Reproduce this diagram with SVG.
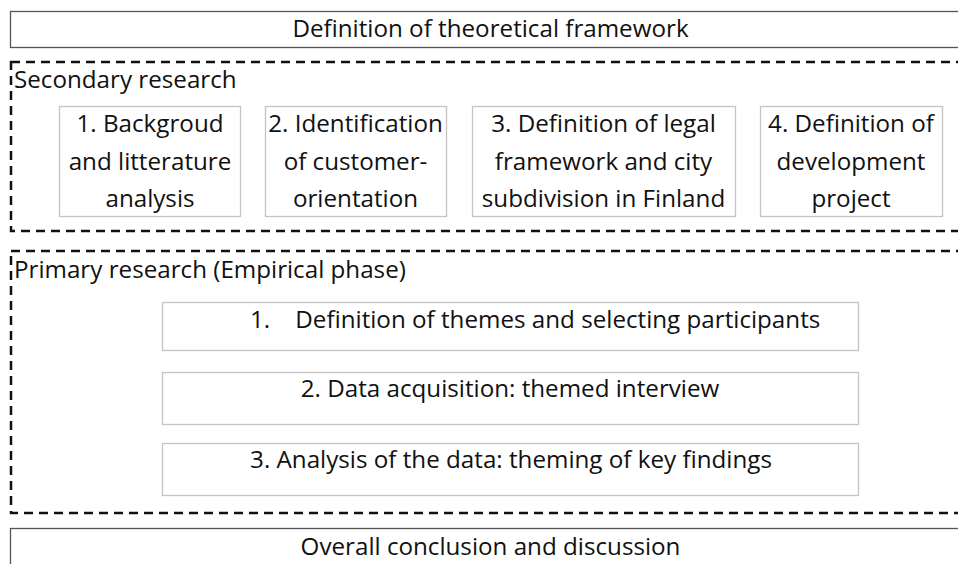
<svg xmlns="http://www.w3.org/2000/svg" width="958" height="564" viewBox="0 0 958 564">
  <style>
    text { font-family: "Open Sans", "Liberation Sans", Arial, sans-serif; font-size: 24.2px; fill: #111; }
    .mid { text-anchor: middle; }
    .solid { fill: #fff; stroke: #555; stroke-width: 1.3; }
    .phase { fill: none; stroke: #111; stroke-width: 2.5; stroke-dasharray: 9 6; }
    .step { fill: #fff; stroke: #c4c4c4; stroke-width: 1.3; }
  </style>
  <rect width="958" height="564" fill="#fff"/>

  <g id="framework">
    <rect class="solid" x="10.5" y="11.5" width="960" height="36"/>
    <text class="mid" x="490.5" y="37">Definition of theoretical framework</text>
  </g>

  <g id="secondary">
    <rect class="phase" x="11" y="62" width="960" height="169"/>
    <text x="14" y="88">Secondary research</text>
  </g>
  <g id="sec-1">
    <rect class="step" x="59.5" y="106.5" width="181" height="110"/>
    <text class="mid" x="150" y="132">1. Backgroud</text>
    <text class="mid" x="150" y="170">and litterature</text>
    <text class="mid" x="150" y="207">analysis</text>
  </g>
  <g id="sec-2">
    <rect class="step" x="265.5" y="106.5" width="181" height="110"/>
    <text class="mid" x="355.5" y="132">2. Identification</text>
    <text class="mid" x="355.5" y="170">of customer-</text>
    <text class="mid" x="355.5" y="207">orientation</text>
  </g>
  <g id="sec-3">
    <rect class="step" x="472.5" y="106.5" width="263" height="110"/>
    <text class="mid" x="603.5" y="132">3. Definition of legal</text>
    <text class="mid" x="603.5" y="170">framework and city</text>
    <text class="mid" x="603.5" y="207">subdivision in Finland</text>
  </g>
  <g id="sec-4">
    <rect class="step" x="760.5" y="106.5" width="182" height="110"/>
    <text class="mid" x="851" y="132">4. Definition of</text>
    <text class="mid" x="851" y="170">development</text>
    <text class="mid" x="851" y="207">project</text>
  </g>

  <g id="primary">
    <rect class="phase" x="11" y="251" width="960" height="262"/>
    <text x="14" y="278">Primary research (Empirical phase)</text>
  </g>
  <g id="pri-1">
    <rect class="step" x="162.5" y="302.5" width="696" height="48"/>
    <text x="250" y="328" xml:space="preserve">1.    Definition of themes and selecting participants</text>
  </g>
  <g id="pri-2">
    <rect class="step" x="162.5" y="372.5" width="696" height="52"/>
    <text class="mid" x="510" y="397">2. Data acquisition: themed interview</text>
  </g>
  <g id="pri-3">
    <rect class="step" x="162.5" y="443.5" width="696" height="52"/>
    <text class="mid" x="511" y="468">3. Analysis of the data: theming of key findings</text>
  </g>

  <g id="conclusion">
    <rect class="solid" x="10.5" y="528.5" width="960" height="50"/>
    <text class="mid" x="490.5" y="555">Overall conclusion and discussion</text>
  </g>

  <g id="connectors"></g>
</svg>
